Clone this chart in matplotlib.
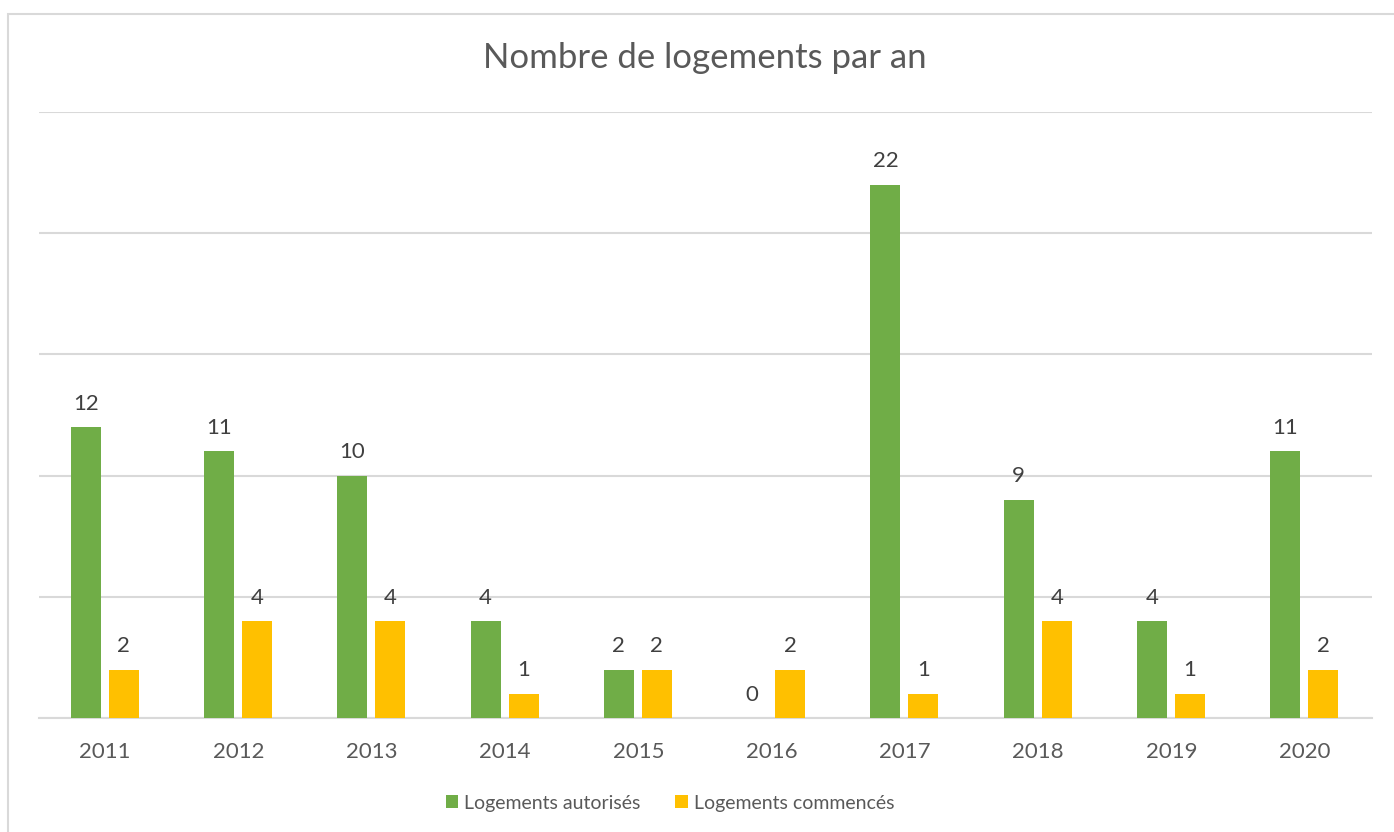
import numpy as np
import matplotlib.pyplot as plt
from matplotlib.patches import Rectangle

# données
annees = ["2011", "2012", "2013", "2014", "2015", "2016", "2017", "2018", "2019", "2020"]
autorises = [12, 11, 10, 4, 2, 0, 22, 9, 4, 11]
commences = [2, 4, 4, 1, 2, 2, 1, 4, 1, 2]

vert = "#70AD47"
jaune = "#FFC000"
gris_texte = "#595959"

plt.rcParams['font.family'] = ['Lato', 'DejaVu Sans']

fig = plt.figure(figsize=(13.94, 8.32), dpi=100)
ax = fig.add_axes([38.5 / 1394, 1 - 718 / 832, 1333 / 1394, (718 - 112) / 832])

x = np.arange(len(annees))
largeur = 0.225
b1 = ax.bar(x - 0.146, autorises, largeur, color=vert, label="Logements autorisés", zorder=3)
b2 = ax.bar(x + 0.139, commences, largeur, color=jaune, label="Logements commencés", zorder=3)

# étiquettes de valeurs
for barres in (b1, b2):
    for b in barres:
        h = b.get_height()
        ax.annotate(str(int(h)), (b.get_x() + b.get_width() / 2, h),
                    xytext=(0, 12.5), textcoords="offset points",
                    ha="center", va="baseline", fontsize=16, color="#404040")

ax.set_xlim(-0.5, len(annees) - 0.5)
ax.set_ylim(0, 25)
ax.set_yticks([0, 5, 10, 15, 20, 25])
ax.set_yticklabels([])
ax.tick_params(axis="y", length=0)
ax.set_xticks(x)
ax.set_xticklabels(annees, fontsize=16, color=gris_texte)
ax.tick_params(axis="x", length=0, pad=17)
ax.grid(axis="y", color="#D9D9D9", linewidth=1.5, zorder=0)
for s in ["top", "right", "left"]:
    ax.spines[s].set_visible(False)
ax.spines["bottom"].set_color("#D9D9D9")
ax.spines["bottom"].set_linewidth(1.5)

fig.text(705 / 1394, 1 - 58 / 832, "Nombre de logements par an",
         ha="center", va="center", fontsize=25, color=gris_texte)

leg = fig.legend(loc="center", bbox_to_anchor=(670 / 1394, 1 - 803 / 832), ncol=2,
                 frameon=False, fontsize=14, handlelength=0.65, handleheight=0.65,
                 handletextpad=0.3, columnspacing=1.8)
for t in leg.get_texts():
    t.set_color(gris_texte)

# cadre du graphique
fig.patches.append(Rectangle((8 / 1394, -0.1), 1.2, 1 - 14 / 832 + 0.1,
                             transform=fig.transFigure, fill=False,
                             edgecolor="#D9D9D9", linewidth=1.5))

fig.savefig("out.png", dpi=100)
